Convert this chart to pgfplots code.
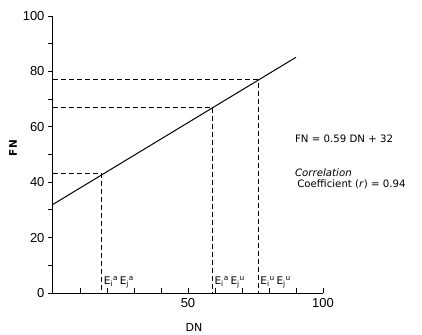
\documentclass[border=0pt]{standalone}
\usepackage{pgfplots}
\pgfplotsset{compat=1.18}
\usepackage{fontspec}
\setmainfont{DejaVu Sans}
\newfontfamily\lib{Liberation Sans}
\begin{document}
\begin{tikzpicture}[x=1pt,y=1pt]
\path[use as bounding box] (-53,-41) rectangle (369,293);
\begin{axis}[
  at={(0,0)}, anchor=south west,
  scale only axis, width=270pt, height=277pt,
  xmin=0, xmax=100, ymin=0, ymax=100,
  axis lines=left, axis line style={-, line width=1pt},
  clip=false,
  xtick={50,100}, minor xtick={10,20,30,40,60,70,80,90},
  ytick={0,20,40,60,80,100}, minor ytick={10,30,50,70,90},
  xtick align=inside, ytick align=outside,
  major tick length=5pt, minor tick length=5pt,
  tick style={black, line width=0.8pt},
  /pgf/number format/assume math mode=true,
  tick label style={font=\lib\fontsize{13}{14}\selectfont},
  xticklabel style={yshift=-2pt},
]
\addplot[black, line width=1pt] coordinates {(0,32) (90,85.1)};
\addplot[black, dash pattern=on 5pt off 3pt, line width=0.9pt] coordinates {(0,43) (18,43) (18,0)};
\addplot[black, dash pattern=on 5pt off 3pt, line width=0.9pt] coordinates {(0,67) (59,67) (59,0)};
\addplot[black, dash pattern=on 5pt off 3pt, line width=0.9pt] coordinates {(0,77) (76,77) (76,0)};
\node[rotate=90, font=\fontsize{10.5}{12}\selectfont\bfseries] at (axis cs:-14.8,52.3) {FN};
\node[font=\fontsize{11}{12}\selectfont] at (axis cs:52.2,-12.3) {DN};
\node[anchor=west, font=\fontsize{10.5}{12}\selectfont, inner sep=1pt] at (axis cs:18.4,4) {E\textsubscript{i}\textsuperscript{a}\,E\textsubscript{j}\textsuperscript{a}};
\node[anchor=west, font=\fontsize{10.5}{12}\selectfont, inner sep=1pt] at (axis cs:59.4,4) {E\textsubscript{i}\textsuperscript{a}\,E\textsubscript{j}\textsuperscript{u}};
\node[anchor=west, font=\fontsize{10.5}{12}\selectfont, inner sep=1pt] at (axis cs:76.4,4) {E\textsubscript{i}\textsuperscript{u}\,E\textsubscript{j}\textsuperscript{u}};
\node[anchor=west, font=\fontsize{10.2}{12}\selectfont, inner sep=0pt] at (axis cs:89.6,55.6) {FN = 0.59 DN + 32};
\node[anchor=west, font=\fontsize{10.2}{12}\selectfont\itshape, inner sep=0pt] at (axis cs:89.6,43.3) {Correlation};
\node[anchor=west, font=\fontsize{10.2}{12}\selectfont, inner sep=0pt] at (axis cs:90.4,39.3) {Coefficient (\textit{r}) = 0.94};
\end{axis}
\end{tikzpicture}
\end{document}
